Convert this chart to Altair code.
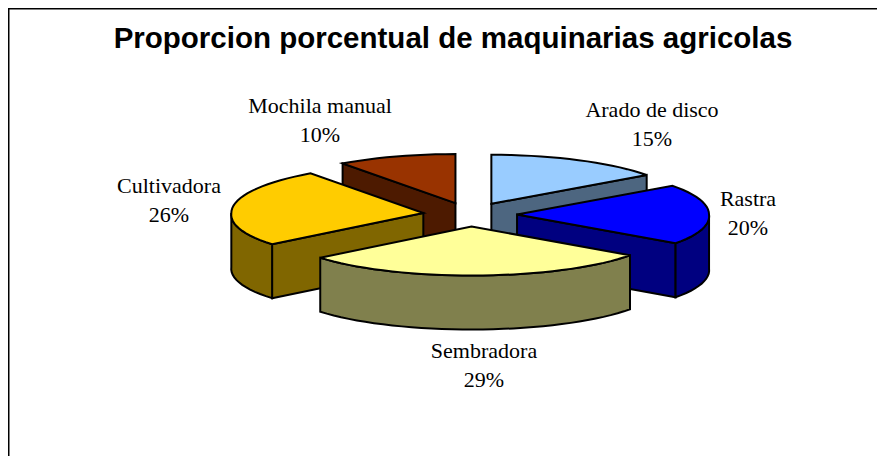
import math
import altair as alt
import pandas as pd

# --- chart values -----------------------------------------------------------
labels = ["Arado de disco", "Rastra", "Sembradora", "Cultivadora", "Mochila manual"]
shares = [15, 20, 29, 26, 10]
top_colors = ["#99CCFF", "#0000FF", "#FFFF99", "#FFCC00", "#993300"]
side_colors = ["#4D6680", "#000080", "#80804D", "#806600", "#4D1A00"]
title_text = "Proporcion porcentual de maquinarias agricolas"

# --- layout -----------------------------------------------------------------
W, H = 869, 448          # plot area (page is offset 8px)
PX_X, PX_Y = 192.0, 49.0 # pixels per pie radius horizontally / vertically
CX, CY = 470.0, 214.5    # pie centre in window pixels
DEPTH = 54.0 / PX_Y      # thickness of the pie, in vertical radii
EXPLODE = 0.245          # explosion, in radii
PERSPECTIVE = 0.035      # front of the pie looks slightly wider
STEP = 3.0

label_pos = [(652, 110), (748, 199), (484, 351), (169, 186), (320, 106)]


def rim(cx, cy, deg, drop=0.0):
    r = math.radians(deg)
    widen = 1 + PERSPECTIVE * max(0.0, -math.cos(r))
    return cx + math.sin(r) * widen, cy + math.cos(r) - drop


def arc(t0, t1):
    n = max(1, int(round((t1 - t0) / STEP)))
    return [t0 + (t1 - t0) * i / n for i in range(n + 1)]


slices = []
start = 0.0
for name, share, top, side in zip(labels, shares, top_colors, side_colors):
    end = start + share * 3.6
    mid = math.radians((start + end) / 2)
    slices.append(dict(name=name, t0=start, t1=end, mid=mid, top=top, side=side,
                       cx=EXPLODE * math.sin(mid), cy=EXPLODE * math.cos(mid)))
    start = end

rows = []


def add_face(face_id, fill, pts):
    for i, (x, y) in enumerate(pts):
        rows.append(dict(face=face_id, fill=fill, seq=i, x=x, y=y))


face = 0
for s in sorted(slices, key=lambda d: -d["cy"]):
    cx, cy, t0, t1 = s["cx"], s["cy"], s["t0"], s["t1"]
    # radial wall facing the viewer
    edge = t0 if t0 > 180 else (t1 if t1 < 180 else None)
    if edge is not None:
        p = rim(cx, cy, edge)
        q = rim(cx, cy, edge, DEPTH)
        add_face(f"f{face:02d}", s["side"], [(cx, cy), p, q, (cx, cy - DEPTH)])
        face += 1
    # outer curved wall (front half only)
    a0, a1 = max(t0, 90.0), min(t1, 270.0)
    if a1 > a0:
        angs = arc(a0, a1)
        upper = [rim(cx, cy, a) for a in angs]
        lower = [rim(cx, cy, a, DEPTH) for a in reversed(angs)]
        add_face(f"f{face:02d}", s["side"], upper + lower)
        face += 1
    # top face
    add_face(f"f{face:02d}", s["top"], [(cx, cy)] + [rim(cx, cy, a) for a in arc(t0, t1)])
    face += 1

faces = pd.DataFrame(rows)

x_scale = alt.Scale(domain=[(8 - CX) / PX_X, (8 + W - CX) / PX_X], range=[0, W], nice=False, zero=False)
y_scale = alt.Scale(domain=[(CY - 8 - H) / PX_Y, (CY - 8) / PX_Y], range=[H, 0], nice=False, zero=False)

pie = alt.Chart(faces).mark_line(
    interpolate="linear-closed", stroke="black", strokeWidth=2, strokeJoin="miter", clip=False
).encode(
    x=alt.X("x:Q", scale=x_scale, axis=None),
    y=alt.Y("y:Q", scale=y_scale, axis=None),
    detail="face:N",
    order="seq:Q",
    fill=alt.Fill("fill:N", scale=None),
)

text_df = pd.DataFrame({
    "t": [f"{n}\n{v}%" for n, v in zip(labels, shares)],
    "px": [p[0] - 8 for p in label_pos],
    "py": [p[1] - 8 for p in label_pos],
})
text = alt.Chart(text_df).mark_text(
    font="Liberation Serif", fontSize=22, color="black", lineBreak="\n",
    lineHeight=29, align="center", baseline="middle"
).encode(
    x=alt.X("px:Q", scale=alt.Scale(domain=[0, W], range=[0, W]), axis=None),
    y=alt.Y("py:Q", scale=alt.Scale(domain=[0, H], range=[0, H]), axis=None),
    text="t:N",
)

title = alt.Chart(pd.DataFrame({"t": [title_text]})).mark_text(
    font="Liberation Sans", fontWeight="bold", fontSize=29.5, color="black",
    align="center", baseline="middle"
).encode(x=alt.value(453 - 8), y=alt.value(38.5 - 8), text="t:N")

left = alt.Chart(pd.DataFrame({"a": [0]})).mark_rule(color="black", strokeWidth=1.5).encode(
    x=alt.value(0.75), y=alt.value(0), y2=alt.value(H))
upper = alt.Chart(pd.DataFrame({"a": [0]})).mark_rule(color="black", strokeWidth=1.5).encode(
    y=alt.value(0.75), x=alt.value(0), x2=alt.value(W))

chart = alt.layer(left, upper, pie, text, title).resolve_scale(x="independent", y="independent").properties(
    width=W, height=H, padding=0, autosize=alt.AutoSizeParams(type="none"), background="white"
).configure_view(stroke=None)

chart.save("out.html", embed_options={"renderer": "svg", "actions": False})
